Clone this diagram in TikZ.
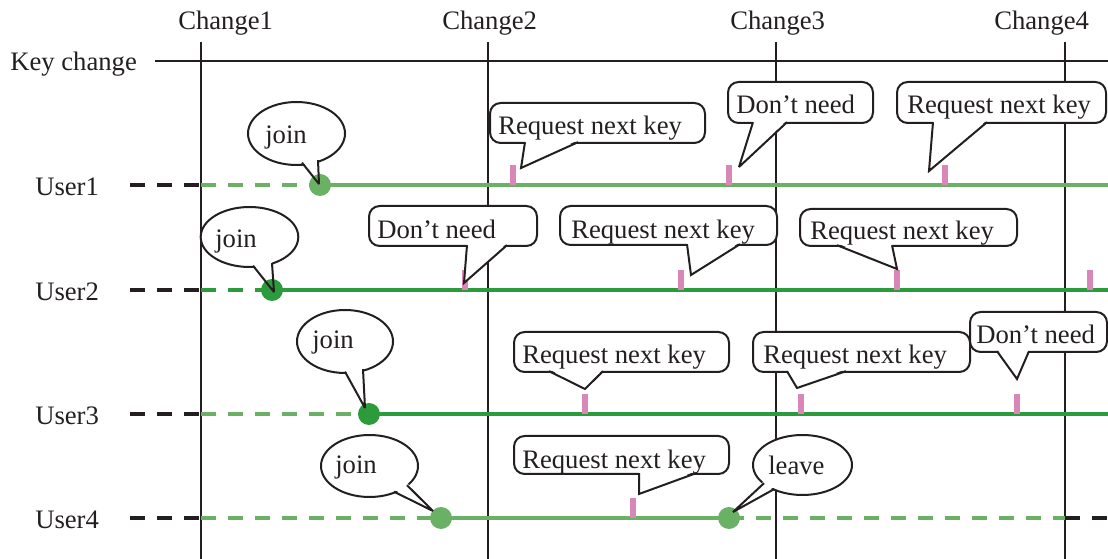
\documentclass[tikz,border=0pt]{standalone}
\usepackage{fontspec}
\setmainfont{Liberation Serif}
\usetikzlibrary{shapes.geometric,fit}
\definecolor{ink}{HTML}{231F20}
\definecolor{lgreen}{HTML}{6AB166}
\definecolor{dgreen}{HTML}{2B9B3B}
\definecolor{tickpink}{HTML}{D987B8}
\tikzset{
  gridline/.style={draw=ink, line width=1.5pt},
  txt/.style={font=\fontsize{20}{24}\selectfont, text=ink, inner sep=0pt, anchor=base west},
  uline/.style={line width=3pt},
  dashpat/.style={dash pattern=on 11.25pt off 9pt},
  bubble/.style={draw=ink, fill=white, line width=1.5pt},
  boxnode/.style={bubble, rectangle, rounded corners=8pt, inner sep=0pt},
  ellnode/.style={bubble, ellipse, inner sep=0pt},
  dotnode/.style={circle, inner sep=0pt, minimum size=16.5pt},
  ptrline/.style={draw=ink, line width=1.5pt, line join=miter, miter limit=3},
}
\newcommand\ptrfill[3]{\fill[white] ([yshift=2.2pt]#1) -- (#2) -- ([yshift=2.2pt]#3) -- cycle;}
\newcommand\ptrdraw[3]{\draw[ptrline] ([yshift=0.6pt]#1) -- (#2) -- ([yshift=0.6pt]#3);}
\newcommand\tickat[2]{\fill[tickpink] (#1-3,#2-20) rectangle (#1+3,#2);}
\begin{document}
\begin{tikzpicture}[x=0.75pt,y=-0.75pt]
\useasboundingbox (0,0) rectangle (1108,559);

% ---- labels ----
\node[txt] (ch1) at (178,30) {Change1};
\node[txt] (ch2) at (442,30) {Change2};
\node[txt] (ch3) at (730,30) {Change3};
\node[txt] (ch4) at (994,30) {Change4};
\node[txt] (keylab) at (10,71) {Key change};
\node[txt] (lu1) at (35,196) {User1};
\node[txt] (lu2) at (35,301) {User2};
\node[txt] (lu3) at (35,425) {User3};
\node[txt] (lu4) at (35,529) {User4};

% ---- grid ----
\coordinate (k0) at (155,61); \coordinate (k1) at (1108,61);
\draw[gridline] (k0) -- (k1);
\foreach \x/\n in {201/1,488/2,776/3,1065/4}{
  \coordinate (v\n t) at (\x,42); \coordinate (v\n b) at (\x,559);
  \draw[gridline] (v\n t) -- (v\n b);
}

% ---- user lines ----
% User1
\coordinate (u1a) at (130,185); \coordinate (u1b) at (201,185);
\coordinate (j1) at (320,185); \coordinate (u1e) at (1108,185);
\draw[uline, ink, dashpat] (u1a) -- (u1b);
\draw[uline, lgreen, dashpat] (u1b) -- (j1);
\draw[uline, lgreen] (j1) -- (u1e);
% User2
\coordinate (u2a) at (130,290); \coordinate (u2b) at (201,290);
\coordinate (j2) at (272,290); \coordinate (u2e) at (1108,290);
\draw[uline, ink, dashpat] (u2a) -- (u2b);
\draw[uline, dgreen, dashpat] (u2b) -- (j2);
\draw[uline, dgreen] (j2) -- (u2e);
% User3
\coordinate (u3a) at (130,414); \coordinate (u3b) at (201,414);
\coordinate (j3) at (369,414); \coordinate (u3e) at (1108,414);
\draw[uline, ink, dashpat] (u3a) -- (u3b);
\draw[uline, lgreen, dashpat] (u3b) -- (j3);
\draw[uline, dgreen] (j3) -- (u3e);
% User4
\coordinate (u4a) at (130,518); \coordinate (u4b) at (201,518);
\coordinate (j4) at (441,518); \coordinate (l4) at (729,518);
\coordinate (u4c) at (1065,518); \coordinate (u4e) at (1108,518);
\draw[uline, ink, dashpat] (u4a) -- (u4b);
\draw[uline, lgreen, dashpat] (u4b) -- (j4);
\draw[uline, lgreen] (j4) -- (l4);
\draw[uline, lgreen, dashpat] (l4) -- (u4c);
\draw[uline, ink, dashpat] (u4c) -- (u4e);

% ---- ticks ----
\tickat{513}{185} \tickat{729}{185} \tickat{945}{185}
\tickat{465}{290} \tickat{681}{290} \tickat{897}{290} \tickat{1090}{290}
\tickat{585}{414} \tickat{801}{414} \tickat{1017}{414}
\tickat{633}{518}

% ---- callout bodies ----
\node[ellnode, minimum width=72.75pt, minimum height=47.25pt] (e1) at (296.5,133.5) {};
\node[boxnode, fit={(490,103) (705,143)}] (bA) {};
\node[boxnode, fit={(728,82) (873,123)}] (bB) {};
\node[boxnode, fit={(897,82) (1106,123)}] (bC) {};
\node[ellnode, minimum width=73.2pt, minimum height=45pt] (e2) at (249.5,237) {};
\node[boxnode, fit={(369,206) (537,246)}] (bD) {};
\node[boxnode, fit={(560,206) (777,245)}] (bE) {};
\node[boxnode, fit={(800,209) (1017,246)}] (bF) {};
\node[ellnode, minimum width=72pt, minimum height=47.25pt] (e3) at (345,341.5) {};
\node[boxnode, fit={(514,332) (729,372)}] (bG) {};
\node[boxnode, fit={(753,332) (970,372)}] (bH) {};
\node[boxnode, fit={(970,312) (1107,352)}] (bI) {};
\node[ellnode, minimum width=72.75pt, minimum height=46.5pt] (e4) at (369.5,466) {};
\node[boxnode, fit={(514,436) (729,474)}] (bJ) {};
\node[ellnode, minimum width=74.25pt, minimum height=45pt] (e5) at (802.5,465) {};

% pointer tips
\coordinate (t1) at (319,184);
\coordinate (tA) at (521,168);
\coordinate (tB) at (739,167);
\coordinate (tC) at (929,171);
\coordinate (t2) at (274,292);
\coordinate (tD) at (464,283);
\coordinate (tE) at (691,275);
\coordinate (tF) at (897,269);
\coordinate (t3) at (365,408);
\coordinate (tG) at (585,389);
\coordinate (tH) at (797,388);
\coordinate (tI) at (1017,379);
\coordinate (t4) at (433,511);
\coordinate (tJ) at (639,494);
\coordinate (t5) at (733,512);

% pointer white fills
\ptrfill{302,163.5}{t1}{318,161}
\ptrfill{525,143}{tA}{578,143}
\ptrfill{753,123}{tB}{787,123}
\ptrfill{933,123}{tC}{987,123}
\ptrfill{253,266.5}{t2}{272,264}
\ptrfill{467,246}{tD}{507,246}
\ptrfill{687,245}{tE}{740,245}
\ptrfill{837,246}{tF}{892,246}
\ptrfill{345,372.5}{t3}{363,370}
\ptrfill{549,372}{tG}{603,372}
\ptrfill{787,372}{tH}{846,372}
\ptrfill{997,352}{tI}{1029,352}
\ptrfill{394,492.5}{t4}{407,486}
\ptrfill{639,474}{tJ}{696,474}
\ptrfill{764,484}{t5}{774,490}

% ---- dots ----
\node[dotnode, fill=lgreen] (d1) at (j1) {};
\node[dotnode, fill=dgreen] (d2) at (j2) {};
\node[dotnode, fill=dgreen] (d3) at (j3) {};
\node[dotnode, fill=lgreen] (d4) at (j4) {};
\node[dotnode, fill=lgreen] (d5) at (l4) {};

% pointer strokes
\ptrdraw{302,163.5}{t1}{318,161}
\ptrdraw{525,143}{tA}{578,143}
\ptrdraw{753,123}{tB}{787,123}
\ptrdraw{933,123}{tC}{987,123}
\ptrdraw{253,266.5}{t2}{272,264}
\ptrdraw{467,246}{tD}{507,246}
\ptrdraw{687,245}{tE}{740,245}
\ptrdraw{837,246}{tF}{892,246}
\ptrdraw{345,372.5}{t3}{363,370}
\ptrdraw{549,372}{tG}{603,372}
\ptrdraw{787,372}{tH}{846,372}
\ptrdraw{997,352}{tI}{1029,352}
\ptrdraw{394,492.5}{t4}{407,486}
\ptrdraw{639,474}{tJ}{696,474}
\ptrdraw{764,484}{t5}{774,490}

% ---- callout texts ----
\node[txt] (x1) at (265,144) {join};
\node[txt] (xA) at (498,135) {Request next key};
\node[txt] (xB) at (736,113.5) {Don’t need};
\node[txt] (xC) at (907,114) {Request next key};
\node[txt] (x2) at (215,248) {join};
\node[txt] (xD) at (377,238.5) {Don’t need};
\node[txt] (xE) at (571,239) {Request next key};
\node[txt] (xF) at (810,240) {Request next key};
\node[txt] (x3) at (312,349) {join};
\node[txt] (xG) at (522,364) {Request next key};
\node[txt] (xH) at (763,364) {Request next key};
\node[txt] (xI) at (976,343.5) {Don’t need};
\node[txt] (x4) at (335,474) {join};
\node[txt] (xJ) at (522,468.5) {Request next key};
\node[txt] (x5) at (768,475) {leave};
\end{tikzpicture}
\end{document}
